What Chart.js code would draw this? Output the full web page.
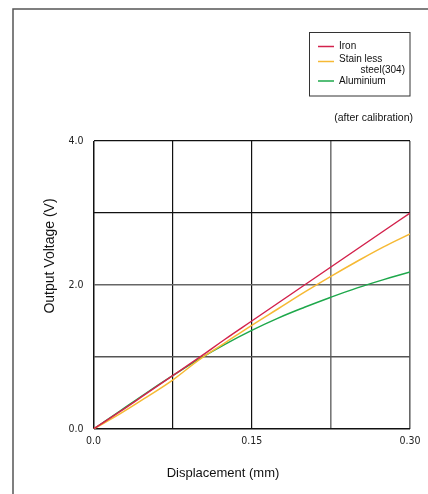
<!DOCTYPE html>
<html>
<head>
<meta charset="utf-8">
<script src="https://cdn.jsdelivr.net/npm/chart.js@4/dist/chart.umd.min.js"></script>
<style>
  html, body { margin: 0; padding: 0; background: #fff; }
  #wrap { width: 428px; height: 494px; position: relative; }
</style>
</head>
<body>
<div id="wrap"><canvas id="chart" width="428" height="494"></canvas></div>
<script>
// displacement (mm) and output voltage (V)
const displacement = [0, 0.025, 0.05, 0.075, 0.1, 0.125, 0.15, 0.175, 0.2, 0.225, 0.25, 0.275, 0.3];
const ironV      = [0, 0.24, 0.49, 0.74, 0.99, 1.25, 1.50, 1.75, 2.00, 2.25, 2.50, 2.75, 3.00];
const stainlessV = [0, 0.21, 0.44, 0.68, 0.96, 1.20, 1.44, 1.67, 1.90, 2.12, 2.33, 2.53, 2.71];
const aluminiumV = [0, 0.25, 0.50, 0.74, 0.97, 1.18, 1.37, 1.54, 1.69, 1.83, 1.96, 2.075, 2.18];

const seriesLabels = ['Iron', ['Stain less', 'steel(304)'], 'Aluminium'];
const seriesColors = ['#d3224c', '#f6b934', '#1ea84b'];

const yTickLabels = { 0: '0.0', 2: '2.0', 4: '4.0' };
const xTickLabels = { 0: '0.0', 0.15: '0.15', 0.3: '0.30' };

const xTitle = 'Displacement (mm)';
const yTitle = 'Output Voltage (V)';
const noteText = '(after calibration)';

function toPoints(values) {
    return displacement.map((x, i) => ({ x: x, y: values[i] }));
}

const textFont = '"Liberation Sans", Arial, Helvetica, sans-serif';
const tickFont = '"Liberation Sans Narrow", "DejaVu Sans Condensed", sans-serif';

// frame, legend box and titles drawn on the canvas
const decor = {
    id: 'decor',
    beforeDraw(chart) {
        const ctx = chart.ctx;
        ctx.save();
        ctx.fillStyle = '#fff';
        ctx.fillRect(0, 0, chart.width, chart.height);
        ctx.strokeStyle = '#555';
        ctx.lineWidth = 1.5;
        ctx.beginPath();
        ctx.moveTo(13, chart.height);
        ctx.lineTo(13, 9);
        ctx.lineTo(chart.width, 9);
        ctx.stroke();
        ctx.restore();
    },
    afterDraw(chart) {
        const ctx = chart.ctx;
        ctx.save();

        // legend box
        ctx.strokeStyle = '#333';
        ctx.lineWidth = 1;
        ctx.strokeRect(309.5, 32.5, 100.5, 63.5);
        ctx.font = '10px ' + textFont;
        ctx.fillStyle = '#111';
        ctx.textBaseline = 'middle';
        const rows = [46.5, 61.5, 81];
        chart.data.datasets.forEach((ds, i) => {
            ctx.strokeStyle = ds.borderColor;
            ctx.lineWidth = 1.5;
            ctx.beginPath();
            ctx.moveTo(318, rows[i]);
            ctx.lineTo(334, rows[i]);
            ctx.stroke();
            if (Array.isArray(ds.label)) {
                ctx.textAlign = 'left';
                ctx.fillText(ds.label[0], 339, rows[i] - 2);
                ctx.textAlign = 'right';
                ctx.fillText(ds.label[1], 405, rows[i] + 8.5);
            } else {
                ctx.textAlign = 'left';
                ctx.fillText(ds.label, 339, rows[i]);
            }
        });

        // note
        ctx.font = '10.5px ' + textFont;
        ctx.textAlign = 'right';
        ctx.fillText(noteText, 413, 118);

        // axis titles
        ctx.font = '13px ' + textFont;
        ctx.textAlign = 'center';
        ctx.fillText(xTitle, 223, 473);
        ctx.font = '14px ' + textFont;
        ctx.translate(50, 256);
        ctx.rotate(-Math.PI / 2);
        ctx.fillText(yTitle, 0, 0);
        ctx.restore();
    }
};

const ctx = document.getElementById('chart').getContext('2d');

new Chart(ctx, {
    type: 'line',
    data: {
        datasets: [ironV, stainlessV, aluminiumV].map((vals, i) => ({
            label: seriesLabels[i],
            data: toPoints(vals),
            borderColor: seriesColors[i],
            backgroundColor: seriesColors[i],
            borderWidth: 1.5,
            pointRadius: 0,
            tension: 0.4,
            fill: false
        }))
    },
    options: {
        responsive: false,
        animation: false,
        devicePixelRatio: 1,
        layout: { padding: { top: 141, right: 18, left: 0, bottom: 0 } },
        plugins: {
            legend: { display: false },
            tooltip: { enabled: false }
        },
        scales: {
            x: {
                type: 'linear',
                min: 0,
                max: 0.3,
                afterFit(scale) { scale.height = 65; },
                afterBuildTicks(scale) {
                    scale.ticks = [0, 0.075, 0.15, 0.225, 0.3].map(v => ({ value: v }));
                },
                border: { display: false },
                grid: {
                    drawTicks: false,
                    color: ['#111', '#111', '#111', '#777', '#666'],
                    lineWidth: [1.5, 1.2, 1.2, 1.6, 1.6]
                },
                ticks: {
                    padding: 6,
                    autoSkip: false,
                    maxRotation: 0,
                    color: '#222',
                    font: { family: tickFont, size: 10.5 },
                    callback: v => xTickLabels[Math.round(v * 1000) / 1000] || ''
                }
            },
            y: {
                min: 0,
                max: 4,
                afterFit(scale) { scale.width = 93.5; },
                border: { display: false },
                grid: {
                    drawTicks: false,
                    color: ['#111', '#555', '#666', '#111', '#111'],
                    lineWidth: [1.5, 1.5, 1.6, 1.2, 1.2]
                },
                ticks: {
                    stepSize: 1,
                    padding: 10,
                    color: '#222',
                    font: { family: tickFont, size: 10.5 },
                    callback: v => yTickLabels[v] || ''
                }
            }
        }
    },
    plugins: [decor]
});
</script>
</body>
</html>
